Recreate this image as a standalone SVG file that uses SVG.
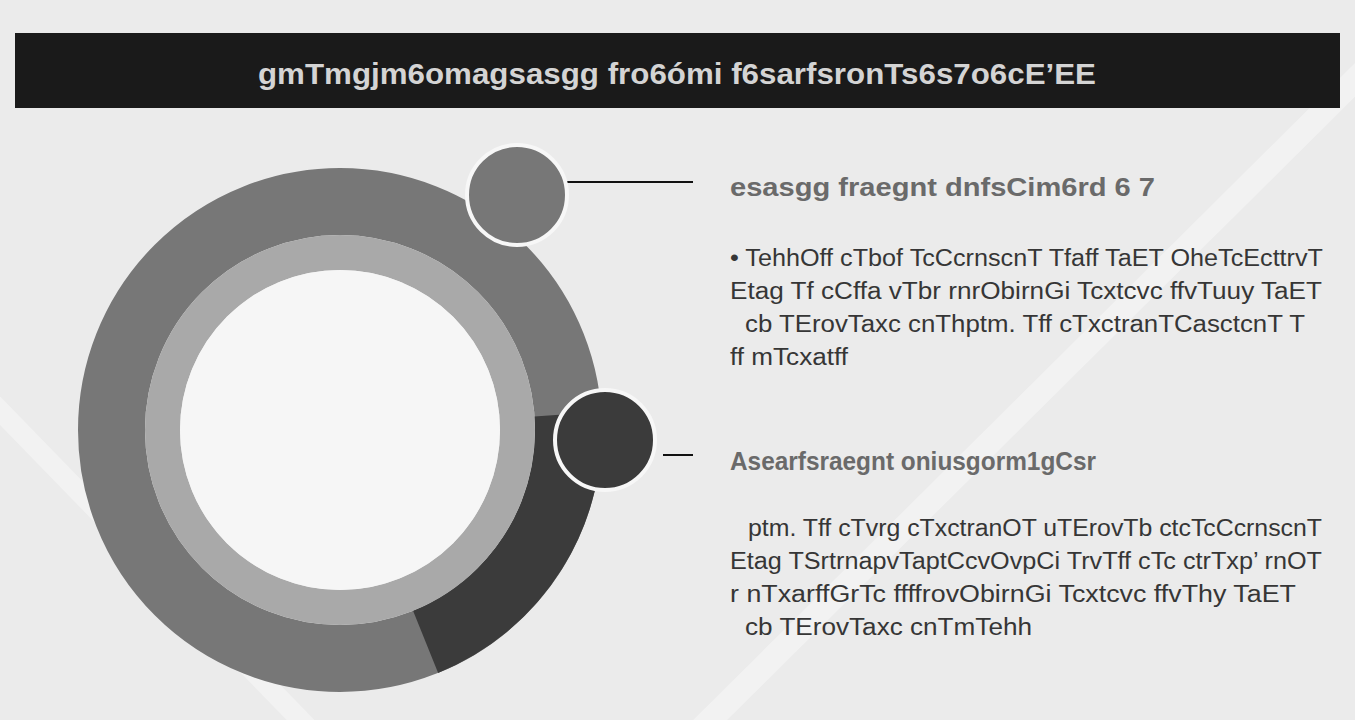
<svg xmlns="http://www.w3.org/2000/svg" width="1355" height="720" viewBox="0 0 1355 720">
<defs>
<style>
.title{font-family:"Liberation Sans",Arial,sans-serif;font-weight:bold;font-size:29px;fill:#d4d4d4}
.head{font-family:"Liberation Sans",Arial,sans-serif;font-weight:bold;font-size:25px;fill:#6a6a6a}
.body{font-family:"Liberation Sans",Arial,sans-serif;font-size:23px;fill:#363636}
.lead{stroke:#111;stroke-width:2}
.bubble{stroke:#f7f7f7;stroke-width:4}
</style>
</defs>
<rect width="1355" height="720" fill="#ebebeb"/>
<g opacity="0.35" fill="none" stroke="#ffffff">
<line x1="-20" y1="390" x2="320" y2="740" stroke-width="20"/>
<line x1="1375" y1="60" x2="690" y2="740" stroke-width="24"/>
</g>
<g id="title-bar">
<rect x="15" y="33" width="1325" height="75" fill="#1a1a1a"/>
<text class="title" x="258" y="84" textLength="838" lengthAdjust="spacingAndGlyphs">gmTmgjm6omagsasgg fro6ómi  f6sarfsronTs6s7o6cE’EE</text>
</g>
<g id="ring">
<circle cx="340" cy="430" r="228.5" fill="none" stroke="#777777" stroke-width="67"/>
<path d="M 567.95 414.06 A 228.5 228.5 0 0 1 425.6 641.86" fill="none" stroke="#3b3b3b" stroke-width="67"/>
<circle cx="340" cy="430" r="177.5" fill="none" stroke="#a9a9a9" stroke-width="35"/>
<circle cx="340" cy="430" r="160" fill="#f6f6f6"/>
</g>
<g id="connectors">
<line class="lead" x1="567" y1="182" x2="693" y2="182"/>
<line class="lead" x1="663" y1="455" x2="693" y2="455"/>
</g>
<g id="node-1">
<circle class="bubble" cx="517" cy="195" r="50" fill="#777777"/>
<text class="head" x="730" y="196" textLength="425" lengthAdjust="spacingAndGlyphs">esasgg fraegnt dnfsCim6rd 6 7</text>
<text class="body" x="730" y="266" textLength="593" lengthAdjust="spacingAndGlyphs">• TehhOff cTbof TcCcrnscnT Tfaff TaET OheTcEcttrvT</text>
<text class="body" x="730" y="299" textLength="592" lengthAdjust="spacingAndGlyphs">Etag Tf cCffa vTbr rnrObirnGi Tcxtcvc ffvTuuy TaET</text>
<text class="body" x="745" y="332" textLength="560" lengthAdjust="spacingAndGlyphs">cb TErovTaxc cnThptm. Tff cTxctranTCasctcnT T</text>
<text class="body" x="730" y="365" textLength="118" lengthAdjust="spacingAndGlyphs">ff mTcxatff</text>
</g>
<g id="node-2">
<circle class="bubble" cx="605" cy="440" r="50" fill="#3b3b3b"/>
<text class="head" x="730" y="470" textLength="366" lengthAdjust="spacingAndGlyphs">Asearfsraegnt oniusgorm1gCsr</text>
<text class="body" x="748" y="536" textLength="574" lengthAdjust="spacingAndGlyphs">ptm. Tff cTvrg cTxctranOT uTErovTb ctcTcCcrnscnT</text>
<text class="body" x="730" y="569" textLength="592" lengthAdjust="spacingAndGlyphs">Etag TSrtrnapvTaptCcvOvpCi TrvTff cTc ctrTxp’ rnOT</text>
<text class="body" x="730" y="602" textLength="566" lengthAdjust="spacingAndGlyphs">r nTxarffGrTc ffffrovObirnGi Tcxtcvc ffvThy TaET</text>
<text class="body" x="745" y="635" textLength="287" lengthAdjust="spacingAndGlyphs">cb TErovTaxc cnTmTehh</text>
</g>
</svg>
